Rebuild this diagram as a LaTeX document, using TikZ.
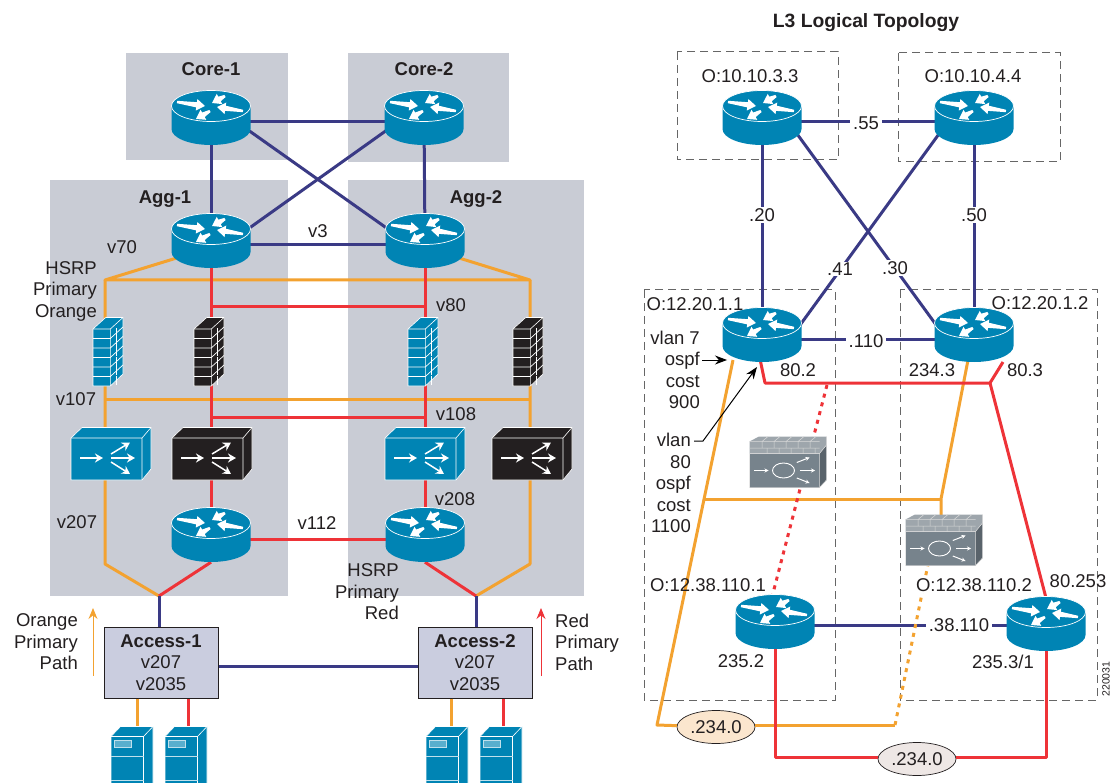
\documentclass[tikz,border=0pt]{standalone}
\usepackage{fontspec}
\setmainfont{Liberation Sans}
\usetikzlibrary{arrows.meta,calc,shapes.geometric}
\definecolor{navy}{HTML}{3A3A85}
\definecolor{orng}{HTML}{F3A230}
\definecolor{redl}{HTML}{EE3338}
\definecolor{cblue}{HTML}{0084B4}
\definecolor{panel}{HTML}{C9CCD5}
\definecolor{ink}{HTML}{231F20}
\definecolor{acc}{HTML}{CACDDF}
\definecolor{mfront}{HTML}{77838C}
\definecolor{mside}{HTML}{59636B}
\definecolor{mtop}{HTML}{9EA6AC}
\definecolor{peach}{HTML}{FBE6CE}
\definecolor{pale}{HTML}{EEE7E5}
\newcommand{\wedgearrow}[4]{%
  \pgfmathsetmacro\wang{atan2(-(#4-#2),#3-#1)}%
  \pgfmathsetmacro\wlen{veclen(#3-#1,#4-#2)}%
  \begin{scope}[shift={(#1,#2)},rotate=\wang]
    \fill[white] (0,-1.2) -- (\wlen-8.5,-2.6) -- (\wlen-8.5,-5.8) -- (\wlen,0) -- (\wlen-8.5,5.8) -- (\wlen-8.5,2.6) -- (0,1.2) -- cycle;
  \end{scope}}
\tikzset{
  x=1pt,y=-1pt,
  lab/.style={inner sep=0pt,text=ink,font=\fontsize{18.5}{21.5}\selectfont,align=center},
  labb/.style={lab,font=\fontsize{18.5}{21.5}\selectfont\bfseries},
  gap/.style={lab,fill=white,inner xsep=3pt,inner ysep=1pt},
  wire/.style={line width=3pt,line join=round},
  nv/.style={wire,draw=navy},
  og/.style={wire,draw=orng},
  rd/.style={wire,draw=redl},
  dot/.style={line width=3pt,dash pattern=on 4pt off 5pt},
  panelbox/.style={fill=panel,draw=none},
  dbox/.style={draw=black!60,line width=1pt,dash pattern=on 8pt off 5pt},
  thin arrow/.style={line width=1pt,-{Stealth[length=11pt,width=9pt]}},
  leader/.style={line width=1pt,draw=black,-{Stealth[length=12pt,width=9pt]}},
  rnode/.style={inner sep=0pt,minimum width=78pt,minimum height=54pt},
  fnode/.style={inner sep=0pt,minimum width=30pt,minimum height=68pt},
  lnode/.style={inner sep=0pt,minimum width=80pt,minimum height=52pt},
  mnode/.style={inner sep=0pt,minimum width=77pt,minimum height=51pt},
  snode/.style={inner sep=0pt,minimum width=42pt,minimum height=57pt},
  oval/.style={ellipse,draw=ink,line width=0.7pt,inner sep=0pt,minimum width=78pt,minimum height=33pt,lab},
  accbox/.style={draw=ink,line width=1pt,fill=acc,inner sep=0pt,minimum width=114pt,minimum height=71pt,lab},
  pics/routericon/.style={code={
    \fill[cblue] (-39.5,-12) -- (-39.5,11) arc[start angle=180,end angle=0,x radius=39.5,y radius=16] -- (39.5,-12) arc[start angle=0,end angle=-180,x radius=39.5,y radius=15.5] -- cycle;
    \draw[white,line width=0.7pt] (-39.5,-12) arc[start angle=180,end angle=0,x radius=39.5,y radius=15.5];
    \draw[white,line width=0.7pt] (-39.5,-12) arc[start angle=180,end angle=360,x radius=39.5,y radius=15.5];
    \wedgearrow{-34}{-16}{-6}{-12}
    \wedgearrow{14}{-22}{1}{-15}
    \wedgearrow{32}{-7}{6}{-11}
    \wedgearrow{-1}{-7}{-15}{1}
  }},
  pics/fwicon/.style={code={
    \filldraw[#1,draw=white,line width=0.6pt,line join=round] (-15,-23) -- (-2.3,-34.5) -- (15,-34.5) -- (15,22) -- (2.3,34) -- (-15,34) -- cycle;
    \draw[white,line width=0.6pt] (-15,-23) -- (2.3,-23) -- (2.3,34) (2.3,-23) -- (15,-34.5);
    \foreach \fy in {-13.5,-4,5.5,15,24.5}{
      \draw[white,line width=0.7pt] (-15,\fy) -- (2.3,\fy) -- (15,\fy-11.5);
    }
    \foreach \fy in {-18,-9,0.5,10,19.5,29}{
      \draw[white,line width=0.5pt] (8.5,\fy-5.5) -- (8.5,\fy+3.5);
    }
  }},
  pics/lbicon/.style={code={
    \filldraw[#1,draw=white,line width=0.6pt,line join=round] (-40,-16) -- (-29,-26.5) -- (40,-26.5) -- (40,15) -- (31,26) -- (-40,26) -- cycle;
    \draw[white,line width=0.6pt] (-40,-16) -- (31,-16) -- (31,26) (31,-16) -- (40,-26.5);
    \draw[white,line width=1.5pt,-{Stealth[length=8pt,width=9pt]}] (-31,4) -- (-8,4);
    \draw[white,line width=1.5pt,-{Stealth[length=8pt,width=9pt]}] (0,0) -- (19,-11.5);
    \draw[white,line width=1.5pt,-{Stealth[length=8pt,width=9pt]}] (0,4) -- (24,4);
    \draw[white,line width=1.5pt,-{Stealth[length=8pt,width=9pt]}] (0,8) -- (19,20);
  }},
  pics/srvicon/.style={code={
    \filldraw[cblue,draw=white,line width=0.6pt,line join=round] (-21,-18.5) -- (-11.5,-28.5) -- (21,-28.5) -- (21,28.5) -- (-21,28.5) -- cycle;
    \draw[white,line width=0.6pt] (-21,-18.5) -- (11.5,-18.5) -- (11.5,28.5) (11.5,-18.5) -- (21,-28.5);
    \draw[white!75!cblue,line width=0.8pt] (-21,1.5) -- (11.5,1.5) (-21,25) -- (11.5,25);
    \draw[white!75!cblue,line width=0.8pt,fill=white!35!cblue] (-17.5,-14.5) rectangle (-0.5,-7.5);
  }},
  pics/modicon/.style={code={
    \fill[mfront] (-38.5,-8.5) rectangle (31.5,25.5);
    \fill[mside] (31.5,-8.5) -- (38.5,-17) -- (38.5,18) -- (31.5,25.5) -- cycle;
    \fill[mtop] (-38.5,-20.5) -- (-29,-25.5) -- (38.5,-25.5) -- (38.5,-17) -- (31.5,-8.5) -- (-38.5,-8.5) -- cycle;
    \draw[white!85!black,line width=0.5pt] (-38.5,-20.5) -- (31.5,-20.5) (-38.5,-14) -- (31.5,-14) (-38.5,-8.5) -- (31.5,-8.5) -- (38.5,-17);
    \foreach \bx in {-26,-14,-2,10,22}{\draw[white!85!black,line width=0.5pt] (\bx,-20.5) -- (\bx,-14) (\bx+5,-14) -- (\bx+5,-8.5) (\bx+6,-25.5) -- (\bx,-20.5);}
    \draw[white!85!black,line width=0.5pt] (-38.5,-8.5) -- (-38.5,25.5) -- (31.5,25.5) -- (38.5,18) -- (38.5,-25.5) (31.5,-8.5) -- (31.5,25.5);
    \draw[white,line width=0.9pt] (-4.5,8.5) ellipse[x radius=11,y radius=7.5];
    \draw[white,line width=1pt,-{Stealth[length=4pt,width=4pt]}] (-34,8.5) -- (-19.5,8.5);
    \draw[white,line width=1pt,-{Stealth[length=4pt,width=4pt]}] (8.8,0.5) -- (21.5,-4.5);
    \draw[white,line width=1pt,-{Stealth[length=4pt,width=4pt]}] (12,8.5) -- (27,8.5);
    \draw[white,line width=1pt,-{Stealth[length=4pt,width=4pt]}] (8.8,16) -- (21.5,21);
  }},
}
\begin{document}
\begin{tikzpicture}
\useasboundingbox (0,0) rectangle (1113,783);
% panels
\fill[panelbox] (126,53) rectangle (288,160);
\fill[panelbox] (348,53) rectangle (509,162);
\fill[panelbox] (50,180) rectangle (288,596);
\fill[panelbox] (348,180) rectangle (584,596);
\draw[dbox] (677,52) rectangle (838,160);
\draw[dbox] (898,53) rectangle (1060,162);
\draw[dbox] (644,290) rectangle (835,700);
\draw[dbox] (900,290) rectangle (1097,700);
% device anchors, left
\node[rnode] (c1) at (211,118) {};
\node[rnode] (c2) at (424,118) {};
\node[rnode] (a1) at (211,241) {};
\node[rnode] (a2) at (425,241) {};
\node[rnode] (b1) at (211,535) {};
\node[rnode] (b2) at (425,535) {};
\node[fnode] (f1) at (108,352) {};
\node[fnode] (f2) at (209,352) {};
\node[fnode] (f3) at (423,352) {};
\node[fnode] (f4) at (528,352) {};
\node[lnode] (l1) at (111,454) {};
\node[lnode] (l2) at (212,454) {};
\node[lnode] (l3) at (425,454) {};
\node[lnode] (l4) at (532,454) {};
\node[snode] (s1) at (132,755) {};
\node[snode] (s2) at (186,755) {};
\node[snode] (s3) at (447,755) {};
\node[snode] (s4) at (501,755) {};
\coordinate (hl) at (105,280);
\coordinate (hr) at (530,280);
\coordinate (ml) at (105,399);
\coordinate (mr) at (530,399);
\coordinate (bl) at (105,564);
\coordinate (br) at (530,564);
\coordinate (j1) at (159,596);
\coordinate (j2) at (476,596);
\coordinate (t1) at (211,307);
\coordinate (t2) at (425,307);
\coordinate (u1) at (211,417);
\coordinate (u2) at (425,417);
\coordinate (w1) at (137,727);
\coordinate (w2) at (188,727);
\coordinate (w3) at (451,727);
\coordinate (w4) at (503,727);
\coordinate (ao1) at (93,676);
\coordinate (ao2) at (93,608);
\coordinate (ar1) at (541,676);
\coordinate (ar2) at (541,608);
\node[accbox] (ac1) at (161,662.5) {\bfseries Access-1\\v207\\v2035};
\node[accbox] (ac2) at (475,662.5) {\bfseries Access-2\\v207\\v2035};
% left connectors
\draw[nv] ($(c1)+(0,4)$) -- ($(c2)+(0,4)$);
\draw[nv] (c1) -- (a1);
\draw[nv] (c2) -- (a2);
\draw[nv] ($(c1)+(30,7)$) -- ($(a2)+(-30,-7)$);
\draw[nv] ($(c2)+(-30,7)$) -- ($(a1)+(30,-7)$);
\draw[nv] ($(a1)+(0,4)$) -- ($(a2)+(0,4)$);
\draw[og] ($(a1)+(-5,8)$) -- (hl) -- (hr) -- ($(a2)+(5,8)$);
\draw[og] (hl) -- (bl) -- (j1);
\draw[og] (hr) -- (br) -- (j2);
\draw[og] (ml) -- (mr);
\draw[rd] (t1) -- (t2);
\draw[rd] (u1) -- (u2);
\draw[rd] (a1) -- (b1);
\draw[rd] (a2) -- (b2);
\draw[rd] (b1.south) -- (j1);
\draw[rd] (b2.south) -- (j2);
\draw[rd] ($(b1)+(0,4)$) -- ($(b2)+(0,4)$);
\draw[nv] (j1) -- (j1 |- ac1.north);
\draw[nv] (j2) -- (j2 |- ac2.north);
\draw[nv] ($(ac1.east)+(0,3.5)$) -- ($(ac2.west)+(0,3.5)$);
\draw[og] (ac1.south -| w1) -- (w1);
\draw[rd] (ac1.south -| w2) -- (w2);
\draw[og] (ac2.south -| w3) -- (w3);
\draw[rd] (ac2.south -| w4) -- (w4);
\draw[thin arrow,draw=orng] (ao1) -- (ao2);
\draw[thin arrow,draw=redl] (ar1) -- (ar2);
% device anchors, right
\node[rnode] (p1) at (762,118) {};
\node[rnode] (p2) at (974,118) {};
\node[rnode] (q1) at (762,335) {};
\node[rnode] (q2) at (974,335) {};
\node[rnode] (v1) at (775,622) {};
\node[rnode] (v2) at (1046,624) {};
\node[mnode] (m1) at (788,462) {};
\node[mnode] (m2) at (944,540) {};
\node[oval,fill=peach] (e1) at (716,727) {.234.0};
\node[oval,fill=pale] (e2) at (917,759) {.234.0};
\coordinate (oa) at (657,725);
\coordinate (ob) at (895,725);
\coordinate (oc) at (703,499);
\coordinate (od) at (941,499);
\coordinate (ra) at (765,383);
\coordinate (rb) at (990,383);
\coordinate (rc) at (827,385);
\coordinate (rd1) at (775,757);
\coordinate (rd2) at (1046,757);
\coordinate (ld1) at (694,441);
\coordinate (ld2) at (703,441);
\coordinate (ld3) at (757,367);
\coordinate (lo1) at (702,360);
\coordinate (lo2) at (727,360);
% right connectors
\draw[nv] ($(p1)+(0,4)$) -- ($(p2)+(0,4)$);
\draw[nv] (p1) -- (q1);
\draw[nv] (p2) -- (q2);
\draw[nv] ($(p1)+(30,9)$) -- ($(q2)+(-32,-2)$);
\draw[nv] ($(p2)+(-30,9)$) -- ($(q1)+(33,-3)$);
\draw[nv] ($(q1)+(0,5)$) -- ($(q2)+(0,5)$);
\draw[nv] ($(v1)+(0,3)$) -- ($(v2)+(0,1)$);
\draw[og] ($(q1)+(-29,25)$) -- (oa) -- (e1);
\draw[og] (e1.east |- ob) -- (ob);
\draw[og,dot] (ob) -- ($(m2)+(-12,5)$);
\draw[og] (oc) -- (od);
\draw[og] ($(q2)+(-6,25)$) -- (od) -- ($(m2)+(-3,-10)$);
\draw[rd] ($(q1)+(-2,24)$) -- (ra) -- (rb) -- ($(q2)+(29,27)$);
\draw[rd] (rb) -- ($(v2)+(0,-26)$);
\draw[redl,dot] (rc) -- ($(v1)+(-3,-25)$);
\draw[rd] (v1) -- (rd1) -- (e2.west |- rd1);
\draw[rd] (e2.east |- rd2) -- (rd2) -- (v2);
% icons
\foreach \n in {c1,c2,a1,a2,b1,b2,p1,p2,q1,q2,v1,v2}{\pic at (\n) {routericon};}
\pic at (f1) {fwicon=cblue};
\pic at (f2) {fwicon=ink};
\pic at (f3) {fwicon=cblue};
\pic at (f4) {fwicon=ink};
\pic at (l1) {lbicon=cblue};
\pic at (l2) {lbicon=ink};
\pic at (l3) {lbicon=cblue};
\pic at (l4) {lbicon=ink};
\foreach \n in {s1,s2,s3,s4}{\pic at (\n) {srvicon};}
\pic at (m1) {modicon};
\pic at (m2) {modicon};
\draw[leader] (lo1) -- (lo2);
\draw[leader] (ld1) -- (ld2) -- (ld3);
% left labels
\node[labb] (tc1) at (211,69) {Core-1};
\node[labb] (tc2) at (424,69) {Core-2};
\node[labb] (ta1) at (165,199) {Agg-1};
\node[labb] (ta2) at (476,199) {Agg-2};
\node[lab] (tv70) at (122,247) {v70};
\node[lab,anchor=east,align=right] (th1) at (97,291) {HSRP\\Primary\\Orange};
\node[lab] (tv3) at (318,231) {v3};
\node[lab] (tv80) at (451,305) {v80};
\node[lab] (tv107) at (76,399) {v107};
\node[lab] (tv108) at (456,414) {v108};
\node[lab] (tv207) at (77,522) {v207};
\node[lab] (tv208) at (455,499) {v208};
\node[lab] (tv112) at (317,523) {v112};
\node[lab,anchor=east,align=right] (th2) at (399,592) {HSRP\\Primary\\Red};
\node[lab,anchor=east,align=right] (tp1) at (78,642) {Orange\\Primary\\Path};
\node[lab,anchor=west,align=left] (tp2) at (555,642) {Red\\Primary\\Path};
% right labels
\node[labb,font=\fontsize{19.3}{22}\selectfont\bfseries] (ttl) at (866,23) {L3 Logical Topology};
\node[lab] (o1) at (750,76) {O:10.10.3.3};
\node[lab] (o2) at (973,76) {O:10.10.4.4};
\node[gap] (g55) at (866,123) {.55};
\node[gap] (g20) at (762,215) {.20};
\node[gap] (g50) at (974,215) {.50};
\node[gap] (g41) at (840,269) {.41};
\node[gap] (g30) at (895,268) {.30};
\node[lab] (o3) at (695,304) {O:12.20.1.1};
\node[lab] (o4) at (1040,303) {O:12.20.1.2};
\node[gap] (g110) at (866,341) {.110};
\node[lab,anchor=east,align=right] (tc) at (700,370) {vlan 7\\ospf\\cost\\900};
\node[lab,anchor=east,align=right] (td) at (691,483) {vlan\\80\\ospf\\cost\\1100};
\node[lab] (n802) at (798,370) {80.2};
\node[lab] (n234) at (932,370) {234.3};
\node[lab] (n803) at (1025,370) {80.3};
\node[lab] (o5) at (708,585) {O:12.38.110.1};
\node[lab,fill=white,inner ysep=1pt] (o6) at (974,585) {O:12.38.110.2};
\node[lab] (n253) at (1078,581) {80.253};
\node[gap] (g38) at (959,625) {.38.110};
\node[lab] (n2352) at (741,661) {235.2};
\node[lab] (n2353) at (1003,662) {235.3/1};
\node[lab,font=\fontsize{10.5}{12}\selectfont,rotate=90] (fig) at (1106,679) {220031};
\end{tikzpicture}
\end{document}
